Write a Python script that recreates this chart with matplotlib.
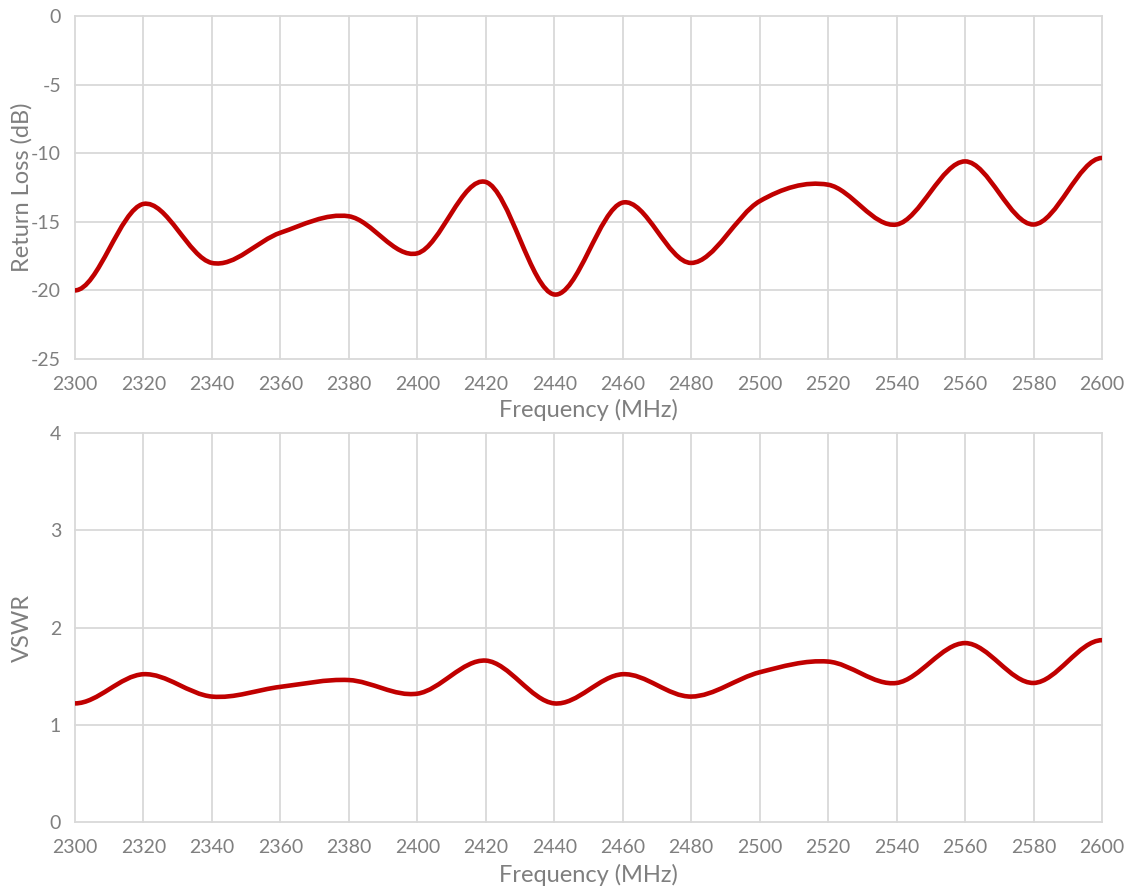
import numpy as np
import matplotlib
import matplotlib.pyplot as plt
from matplotlib.path import Path
from matplotlib.patches import PathPatch

matplotlib.use("Agg")

# Measured points (every 20 MHz), Excel-style smoothed line
freq = [2300, 2320, 2340, 2360, 2380, 2400, 2420, 2440,
        2460, 2480, 2500, 2520, 2540, 2560, 2580, 2600]
return_loss = [-20.0, -13.7, -18.0, -15.8, -14.6, -17.3, -12.1, -20.3,
               -13.6, -18.0, -13.5, -12.3, -15.2, -10.6, -15.2, -10.35]
vswr = [1.22, 1.52, 1.29, 1.39, 1.46, 1.32, 1.66, 1.22,
        1.52, 1.29, 1.54, 1.65, 1.43, 1.84, 1.43, 1.87]

LINE_COLOR = "#C00000"
TEXT_COLOR = "#7F7F7F"
GRID_COLOR = "#D9D9D9"
FONT = "Lato"


def smooth_path(x, y):
    # Catmull-Rom style bezier segments, flat tangents at both ends
    pts = np.column_stack([x, y]).astype(float)
    n = len(pts)
    verts = [pts[0]]
    codes = [Path.MOVETO]
    for i in range(n - 1):
        p1 = pts[i]
        p2 = pts[i + 1]
        if i > 0:
            c1 = p1 + (p2 - pts[i - 1]) / 6.0
        else:
            c1 = p1 + np.array([(p2[0] - p1[0]) / 3.0, 0.0])
        if i + 2 < n:
            c2 = p2 - (pts[i + 2] - p1) / 6.0
        else:
            c2 = p2 - np.array([(p2[0] - p1[0]) / 3.0, 0.0])
        verts += [c1, c2, p2]
        codes += [Path.CURVE4] * 3
    return Path(verts, codes)


def style_axes(ax, ylim, yticks, ylabel, xlab_y):
    ax.set_xlim(2300, 2600)
    ax.set_ylim(*ylim)
    ax.set_xticks(range(2300, 2601, 20))
    ax.set_yticks(yticks)
    for s in ax.spines.values():
        s.set_visible(False)
    ax.grid(True, color=GRID_COLOR, linewidth=1.3)
    for gl in ax.get_xgridlines() + ax.get_ygridlines():
        gl.set_clip_on(False)
    ax.set_axisbelow(True)
    ax.tick_params(length=0, labelsize=14, labelcolor=TEXT_COLOR)
    ax.tick_params(axis="x", pad=12)
    ax.tick_params(axis="y", pad=10)
    for lbl in ax.get_xticklabels() + ax.get_yticklabels():
        lbl.set_fontfamily(FONT)
    ax.set_xlabel("Frequency (MHz)", fontsize=17, color=TEXT_COLOR,
                  fontfamily=FONT)
    ax.xaxis.label.set_va("center")
    ax.xaxis.set_label_coords(0.5, xlab_y)
    ax.set_ylabel(ylabel, fontsize=17, color=TEXT_COLOR, fontfamily=FONT)
    ax.yaxis.label.set_va("center")
    ax.yaxis.set_label_coords(-0.0516, 0.5)


fig = plt.figure(figsize=(11.34, 8.91), dpi=100)
ax1 = fig.add_axes([0.0661, 0.5971, 0.9057, 0.385])
ax2 = fig.add_axes([0.0661, 0.0774, 0.9057, 0.4366])

style_axes(ax1, (-25, 0), [0, -5, -10, -15, -20, -25], "Return Loss (dB)", -0.149)
ax1.set_yticklabels(["0", "-5", "-10", "-15", "-20", "-25"])
style_axes(ax2, (0, 4), [0, 1, 2, 3, 4], "VSWR", -0.136)

ax1.add_patch(PathPatch(smooth_path(freq, return_loss), facecolor="none",
                        edgecolor=LINE_COLOR, linewidth=3.3, capstyle="round",
                        joinstyle="round", zorder=3))
ax2.add_patch(PathPatch(smooth_path(freq, vswr), facecolor="none",
                        edgecolor=LINE_COLOR, linewidth=3.3, capstyle="round",
                        joinstyle="round", zorder=3))

plt.savefig("out.png", dpi=100)
plt.close()
